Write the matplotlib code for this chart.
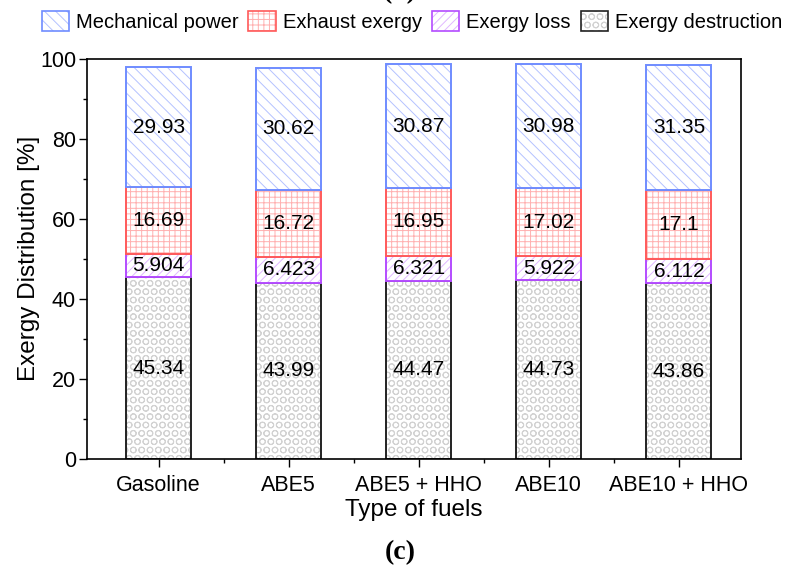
import numpy as np
import matplotlib.pyplot as plt
from matplotlib.patches import Patch
from matplotlib.legend_handler import HandlerTuple

plt.rcParams['font.family'] = ['Liberation Sans', 'DejaVu Sans']
plt.rcParams['hatch.linewidth'] = 0.7

fuels = ["Gasoline", "ABE5", "ABE5 + HHO", "ABE10", "ABE10 + HHO"]
destruction = [45.34, 43.99, 44.47, 44.73, 43.86]
loss = [5.904, 6.423, 6.321, 5.922, 6.112]
exhaust = [16.69, 16.72, 16.95, 17.02, 17.1]
mechanical = [29.93, 30.62, 30.87, 30.98, 31.35]

labels_txt = {
    "destruction": ["45.34", "43.99", "44.47", "44.73", "43.86"],
    "loss": ["5.904", "6.423", "6.321", "5.922", "6.112"],
    "exhaust": ["16.69", "16.72", "16.95", "17.02", "17.1"],
    "mechanical": ["29.93", "30.62", "30.87", "30.98", "31.35"],
}

# (name, values, legend label, edge colour, hatch colour, hatch)
series = [
    ("destruction", destruction, "Exergy destruction", "#222222", "#d2d2d2", "OO"),
    ("loss", loss, "Exergy loss", "#b44cff", "#e0b8ff", "////"),
    ("exhaust", exhaust, "Exhaust exergy", "#ff5a5a", "#ffb0b0", "+++"),
    ("mechanical", mechanical, "Mechanical power", "#6f8cff", "#b4c2ff", "\\\\\\"),
]

fig = plt.figure(figsize=(7.92, 5.65), dpi=100)
ax = fig.add_axes([0.110, 0.188, 0.826, 0.708])

x = np.arange(len(fuels))
width = 0.5
bottom = np.zeros(len(fuels))
for name, vals, lab, ec, hc, hatch in series:
    vals = np.array(vals)
    # hatch layer
    ax.bar(x, vals, width, bottom=bottom, color="white", edgecolor=hc,
           hatch=hatch, linewidth=0)
    # outline layer
    ax.bar(x, vals, width, bottom=bottom, color="none", edgecolor=ec,
           linewidth=1.4)
    for i in range(len(fuels)):
        ax.text(x[i], bottom[i] + vals[i] / 2, labels_txt[name][i],
                ha="center", va="center", fontsize=15)
    bottom += vals

ax.set_xlim(-0.55, 4.48)
ax.set_ylim(0, 100)
ax.set_xticks(x)
ax.set_xticklabels(fuels, fontsize=15.5)
ax.set_xticks(x[:-1] + 0.5, minor=True)
ax.set_yticks([0, 20, 40, 60, 80, 100])
ax.set_yticks([10, 30, 50, 70, 90], minor=True)
ax.tick_params(axis="y", labelsize=15.5, pad=2)
ax.tick_params(axis="x", pad=6)
ax.tick_params(which="major", direction="out", length=6, width=1)
ax.tick_params(which="minor", direction="out", length=3, width=1)
for s in ax.spines.values():
    s.set_linewidth(1.2)
ax.set_xlabel("Type of fuels", fontsize=17.5, labelpad=2)
ax.set_ylabel("Exergy Distribution [%]", fontsize=17.5, labelpad=0)

handles, names = [], []
for name, vals, lab, ec, hc, hatch in reversed(series):
    h1 = Patch(facecolor="white", edgecolor=hc, hatch=hatch, linewidth=0)
    h2 = Patch(facecolor="none", edgecolor=ec, linewidth=1.2)
    handles.append((h1, h2))
    names.append(lab)
fig.legend(handles, names, handler_map={tuple: HandlerTuple(ndivide=1, pad=0)},
           loc="center", bbox_to_anchor=(0.52, 0.962), ncol=4,
           frameon=False, fontsize=14.5, handlelength=1.35, handleheight=1.15,
           columnspacing=0.5, handletextpad=0.35, borderpad=0)

fig.text(0.505, 0.022, "(c)", ha="center", va="center", fontsize=20,
         family="Liberation Serif", fontweight="bold")
fig.text(0.505, 1.014, "(b)", ha="center", va="center", fontsize=20,
         family="Liberation Serif", fontweight="bold")

fig.savefig("out.png", dpi=100)
